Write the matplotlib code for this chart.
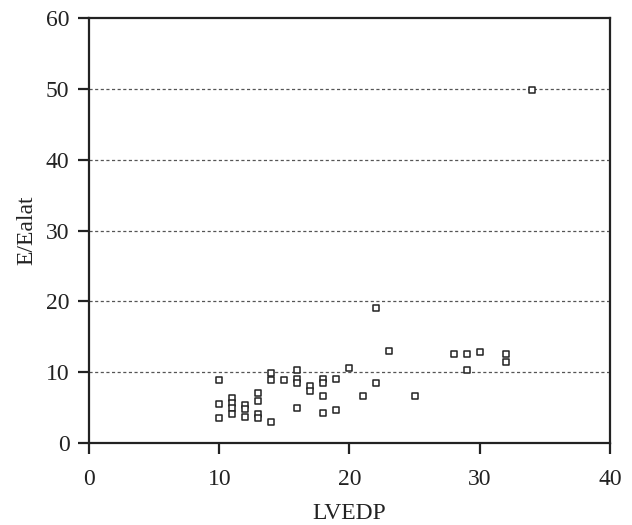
import matplotlib
matplotlib.use('Agg')
import matplotlib.pyplot as plt

# data
lvedp = [10, 10, 10,
         11, 11, 11, 11,
         12, 12, 12,
         13, 13, 13, 13,
         14, 14, 14,
         15,
         16, 16, 16, 16,
         17, 17,
         18, 18, 18, 18,
         19, 19,
         20,
         21,
         22, 22,
         23,
         25,
         28,
         29, 29,
         30,
         32, 32,
         34]
e_ealat = [8.9, 5.5, 3.5,
           6.4, 5.7, 4.9, 4.1,
           5.4, 4.8, 3.6,
           7.0, 5.9, 4.1, 3.5,
           9.9, 8.9, 2.9,
           8.9,
           10.3, 9.0, 8.4, 5.0,
           8.0, 7.3,
           9.1, 8.4, 6.6, 4.3,
           9.0, 4.7,
           10.6,
           6.6,
           19.1, 8.4,
           13.0,
           6.7,
           12.6,
           12.6, 10.3,
           12.8,
           12.6, 11.5,
           49.8]

plt.rcParams['font.family'] = 'Liberation Serif'

fig = plt.figure(figsize=(6.32, 5.25), dpi=100)
ax = fig.add_axes([0.1408, 0.1562, 0.8244, 0.8095])

ax.scatter(lvedp, e_ealat, marker='s', s=22, facecolors='white',
           edgecolors='#222222', linewidths=1.1, zorder=3)

ax.set_xlim(0, 40)
ax.set_ylim(0, 60)
ax.set_xticks([0, 10, 20, 30, 40])
ax.set_yticks([0, 10, 20, 30, 40, 50, 60])

# dotted horizontal grid lines
for y in [10, 20, 30, 40, 50]:
    ax.axhline(y, color='#555555', linestyle=(0, (2.5, 2)), linewidth=0.9, zorder=1)

for s in ax.spines.values():
    s.set_linewidth(1.6)
    s.set_color('#222222')
ax.tick_params(direction='out', length=8, width=1.6, labelsize=17,
               colors='#222222')
ax.tick_params(axis='x', pad=11)
ax.tick_params(axis='y', pad=6)

ax.set_xlabel('LVEDP', fontsize=17, labelpad=9, color='#222222')
ax.set_ylabel('E/Ealat', fontsize=17, labelpad=6, color='#222222')

fig.savefig('out.png', dpi=100)
